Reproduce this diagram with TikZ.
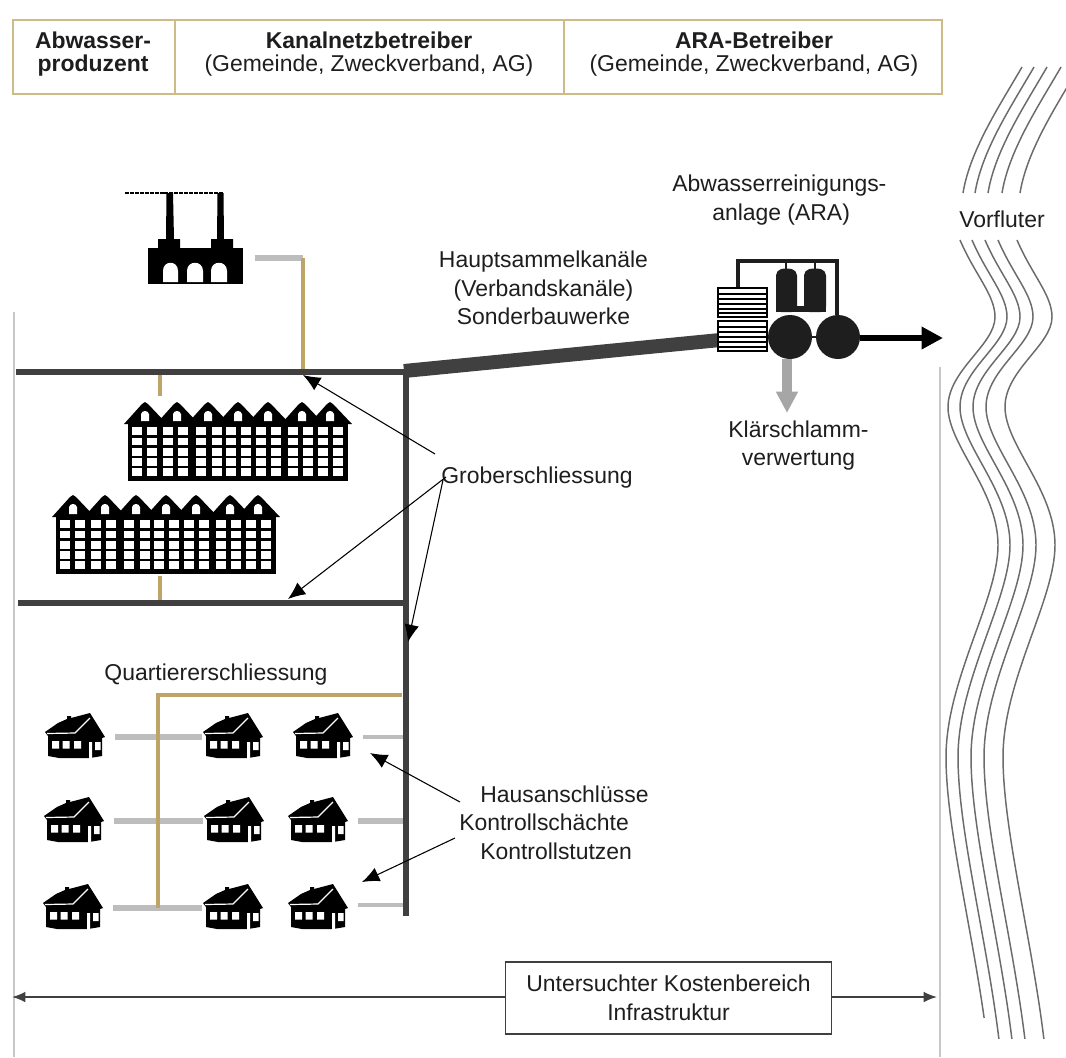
\documentclass[tikz,border=0pt]{standalone}
\usepackage{fontspec}
\setmainfont{Liberation Sans}
\usetikzlibrary{arrows.meta,calc}
\definecolor{pipedark}{HTML}{404040}
\definecolor{pipetan}{HTML}{BFA468}
\definecolor{pipegrey}{HTML}{BDBDBD}
\definecolor{frametan}{HTML}{CDBB88}
\definecolor{inkk}{HTML}{1E1E1E}
\tikzset{
  px/.style={x=0.75pt,y=-0.75pt},
  label/.style={font=\fontsize{17.2}{21.4}\selectfont,text=inkk,inner sep=0pt,align=center},
  headtext/.style={font=\fontsize{17.2}{17.6}\selectfont,text=inkk,inner sep=0pt,align=center},
  trunk/.style={draw=pipedark,line width=4.5pt},
  tan/.style={draw=pipetan,line width=3.6pt},
  service/.style={draw=pipegrey,line width=4.2pt},
  pointer/.style={draw=black,line width=0.8pt,-{Latex[length=13pt,width=11pt]}},
  frameline/.style={draw=black!22,line width=1.1pt},
  river/.style={draw=black!58,line width=1.1pt},
  tank/.style={fill=inkk,rounded corners=4pt},
  digester/.style={circle,fill=inkk,inner sep=0pt,minimum size=33pt},
  settler/.style={rectangle,draw=black,line width=1.4pt,fill=white,inner sep=0pt,minimum width=37pt,minimum height=22pt},
  house/.pic={
    \fill[black] (0,19)--(13,10)--(22,6)--(22,3)--(26,3)--(26,5)--(45,0)--(60,24)--(57,25)--(57,43)--(45,45)--(14,45)--(3,43)--(3,23)--cycle;
    \draw[white,line width=0.9pt] (45,5)--(30,20)--(2,20.5);
    \fill[white] (7,28) rectangle (14,35.5) (17.5,28) rectangle (24.5,35.5) (29,28) rectangle (36,35.5) (44,29) rectangle (47,46) (50,29) rectangle (55.5,37);
    \coordinate (-e) at (70,24);
    \coordinate (-w) at (-1,24);
  },
  block/.pic={
    \foreach \p in {21,53,84,114,144,178,206}{
      \fill[black] (\p-21,22)--(\p-3,2)--(\p,0)--(\p+3,2)--(\p+22,22)--cycle;
    }
    \fill[black] (4,22) rectangle (224,79);
    \foreach \p in {21,53,84,114,144,178,206}{
      \fill[white] (\p-4,19) -- (\p-4,12) .. controls (\p-3,8) and (\p+3,8) .. (\p+4,12) -- (\p+4,19) -- cycle;
    }
    \foreach \c in {8,23,39,54,72,88,102,117,132,147,164,179,194,209}
      \foreach \r in {25,35.5,46,56,66}
        \fill[white] (\c,\r) rectangle (\c+10,\r+7.5);
  },
  factory/.pic={
    \fill[black] (0,0) rectangle (95,36);
    \fill[black] (10,-9) rectangle (32,1) (63,-9) rectangle (85,1);
    \fill[black] (18,-9)--(18.5,-55)--(25,-55)--(26,-9)--cycle (69,-9)--(69.5,-55)--(75.5,-55)--(76,-9)--cycle;
    \draw[black,line width=1.4pt,dash pattern=on 3pt off 0.7pt] (-23,-55)--(75,-55);
    \fill[white] (15,34) -- (15,23) .. controls (15,12) and (30,12) .. (30,23) -- (30,34) -- cycle;
    \fill[white] (39,34) -- (39,23) .. controls (39,12) and (55,12) .. (55,23) -- (55,34) -- cycle;
    \fill[white] (63,34) -- (63,23) .. controls (63,12) and (79,12) .. (79,23) -- (79,34) -- cycle;
    \coordinate (-e) at (107,10);
  }
}
\begin{document}
\begin{tikzpicture}[px]
\useasboundingbox (0,0) rectangle (1066,1057);
\fill[white] (0,0) rectangle (1066,1057);
\clip (0,0) rectangle (1066,1057);

% frame lines
\coordinate (fl1) at (14,312); \coordinate (fl2) at (14,1057);
\coordinate (fr1) at (940,367); \coordinate (fr2) at (940,1057);
\draw[frameline] (fl1)--(fl2);
\draw[frameline] (fr1)--(fr2);

% header
\node[draw=frametan,line width=1.6pt,minimum width=696.75pt,minimum height=55.5pt,inner sep=0pt] (hdr) at (477.5,57) {};
\coordinate (d1a) at (175,20); \coordinate (d1b) at (175,94);
\coordinate (d2a) at (564,20); \coordinate (d2b) at (564,94);
\draw[frametan,line width=1.4pt] (d1a)--(d1b) (d2a)--(d2b);
\node[headtext] (h1) at (93,54) {\textbf{Abwasser-}\\\textbf{produzent}};
\node[headtext] (h2) at (369,54) {\textbf{Kanalnetzbetreiber}\\(Gemeinde, Zweckverband, AG)};
\node[headtext] (h3) at (754,54) {\textbf{ARA-Betreiber}\\(Gemeinde, Zweckverband, AG)};

% river
\foreach \o in {0,12,25,39,57}{
  \begin{scope}[xshift=\o*0.75pt]
    \draw[river] (1022,67) .. controls (1000,105) and (970,150) .. (963,193);
  \end{scope}
}
\foreach \o/\e in {0/1017,12/1038,25/1038,38/1038,57/1038}{
  \begin{scope}[xshift=\o*0.75pt]
    \begin{scope}
    \clip (900,230) rectangle (1100,\e);
    \draw[river] (960,240) .. controls (975,275) and (995,295) .. (995,317)
      .. controls (995,345) and (948,370) .. (948,407)
      .. controls (948,445) and (998,490) .. (998,545)
      .. controls (998,600) and (946,680) .. (946,757)
      .. controls (946,830) and (975,940) .. (987,1040);
    \end{scope}
  \end{scope}
}
\node[label] (vorf) at (1002,219) {Vorfluter};

% buildings
\pic (fa) at (148,248) {factory};
\pic (ap1) at (124,402) {block};
\pic (ap2) at (52,495) {block};
\pic (h11) at (45,713) {house};
\pic (h12) at (203,713) {house};
\pic (h13) at (293,713) {house};
\pic (h21) at (44,797) {house};
\pic (h22) at (204,797) {house};
\pic (h23) at (288,797) {house};
\pic (h31) at (43,884) {house};
\pic (h32) at (203,884) {house};
\pic (h33) at (288,884) {house};

% network coordinates
\coordinate (west1) at (16,372);
\coordinate (jct) at (406,372);
\coordinate (jctb) at (406,916);
\coordinate (west2) at (18,603);
\coordinate (jct2) at (406,603);
\coordinate (facb) at (303,258);
\coordinate (facc) at (303,372);
\coordinate (st1a) at (160,372); \coordinate (st1b) at (160,396);
\coordinate (st2a) at (160,576); \coordinate (st2b) at (160,603);
\coordinate (qa) at (402,695);
\coordinate (qb) at (158,695);
\coordinate (qc) at (158,908);
\coordinate (mainl) at (404,371);
\coordinate (mainr) at (720,340);

\draw[service] (fa-e) -- (facb);
\draw[tan,line width=3.2pt] (facb) -- (facc);
\draw[tan] (st1a) -- (st1b);
\draw[tan] (st2a) -- (st2b);
\draw[service] (h11-e) -- (h12-w);
\draw[service] (h21-e) -- (h22-w);
\draw[service] (h31-e) -- (h32-w);
\draw[tan] (qa) -- (qb) -- (qc);
\draw[service,line width=3pt] (h13-e) -- (h13-e -| jct);
\draw[service] (h23-e) -- (h23-e -| jct);
\draw[service,line width=3pt] (h33-e) ++(0,-3) -- (jctb |- 0,905);
\draw[trunk] (west1) -- (jct);
\draw[trunk] (jct) -- (jctb);
\draw[trunk,line width=3.8pt] (west2) -- (jct2);

% treatment plant
\draw[pipedark,line width=10.5pt] (mainl) -- (mainr);
\node[settler] (b1) at (742.5,302.5) {};
\node[settler] (b2) at (742.5,336) {};
\foreach \yy in {294,299,304,309,313} \draw[black,line width=1pt] (b1.west |- 0,\yy) -- (b1.east |- 0,\yy);
\foreach \yy in {327,332,337,342,347} \draw[black,line width=1pt] (b2.west |- 0,\yy) -- (b2.east |- 0,\yy);
\node[digester] (c1) at (790,337) {};
\node[digester] (c2) at (838,337) {};
\draw[inkk,line width=2pt] (c1) -- (c2);
\coordinate (pa) at (738,261); \coordinate (pb) at (837,261);
\draw[inkk,line width=2.4pt] (b1.north -| pa) -- (pa) -- (pb) -- (c2.north -| pb);
\fill[tank] (776,312) -- (776,270) -- (786,268) -- (797,270) -- (797,312) -- cycle;
\fill[tank] (804,312) -- (804,270) -- (815,268) -- (826,270) -- (826,312) -- cycle;
\fill[inkk] (776,306) rectangle (826,312);
\coordinate (t1) at (786,261); \coordinate (t2) at (815,261);
\draw[inkk,line width=1.5pt] (t1) -- ++(0,8);
\draw[inkk,line width=1.5pt] (t2) -- ++(0,8);
\coordinate (outf) at (943,338);
\coordinate (sludge) at (787,413);
\draw[black,line width=4.8pt,-{Triangle[length=16pt,width=16pt]}] (c2.east |- outf) -- (outf);
\draw[black!35,line width=7pt,-{Triangle[length=16pt,width=15.5pt]}] (c1.south -| sludge) -- (sludge);

% labels
\node[label,align=left,anchor=west] (ara) at (672,200) {Abwasserreinigungs-\\\hspace*{30pt}anlage (ARA)};
\node[label] (haupt) at (543.5,288) {Hauptsammelkanäle\\(Verbandskanäle)\\Sonderbauwerke};
\node[label] (klaer) at (798.5,445.5) {Klärschlamm-\\verwertung};
\node[label] (grob) at (537,478) {Groberschliessung};
\node[label] (quart) at (216,675) {Quartiererschliessung};
\node[label,align=left,anchor=west] (haus) at (459,822.5) {\hspace*{15.75pt}Hausanschlüsse\\Kontrollschächte\\\hspace*{15.75pt}Kontrollstutzen};

% pointers
\coordinate (g0) at (435,454); \coordinate (g1) at (303,375);
\coordinate (g2) at (446,477); \coordinate (g3) at (288,599);
\coordinate (g4) at (443,480); \coordinate (g5) at (408,642);
\coordinate (k0) at (460,802); \coordinate (k1) at (370,753);
\coordinate (k2) at (455,838); \coordinate (k3) at (362,882);
\draw[pointer] (g0) -- (g1);
\draw[pointer] (g2) -- (g3);
\draw[pointer] (g4) -- (g5);
\draw[pointer] (k0) -- (k1);
\draw[pointer] (k2) -- (k3);

% cost range
\coordinate (ra) at (12,997); \coordinate (rb) at (937,997);
\draw[pipedark,line width=1.3pt,{Latex[length=10pt,width=8pt]}-{Latex[length=10pt,width=8pt]}] (ra) -- (rb);
\node[draw=pipedark,line width=0.8pt,fill=white,minimum width=245pt,minimum height=54pt,label,inner sep=0pt] (kost) at (668.5,998) {Untersuchter Kostenbereich\\Infrastruktur};
\end{tikzpicture}
\end{document}
